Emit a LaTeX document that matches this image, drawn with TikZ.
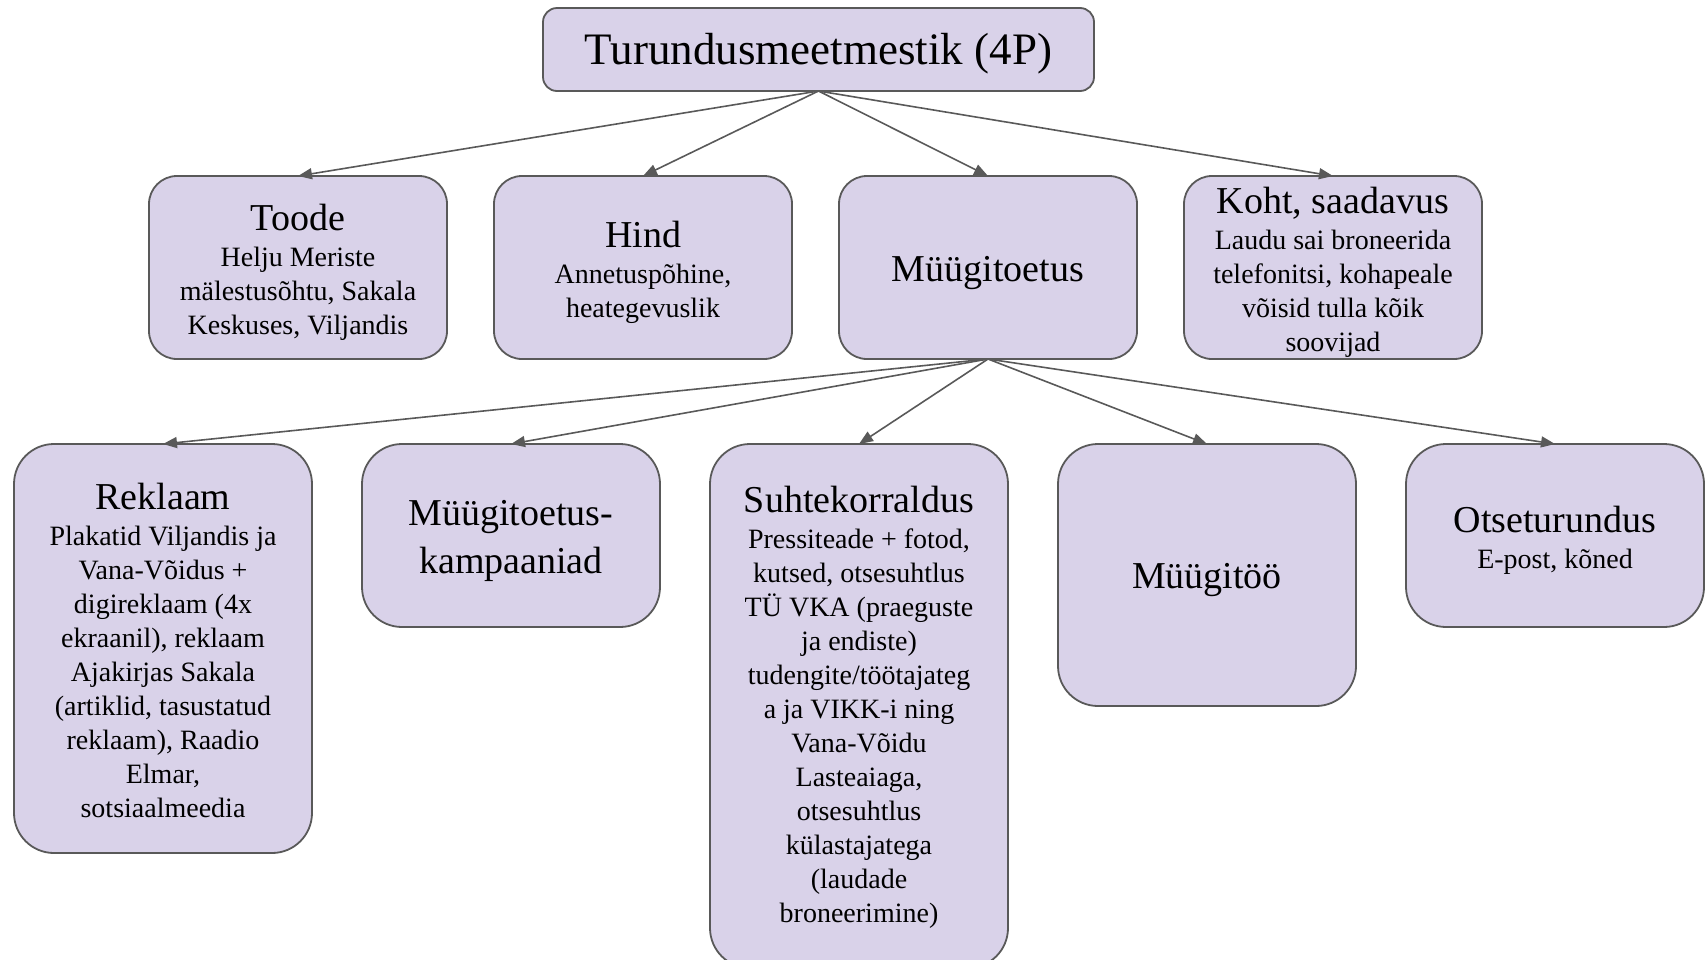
\documentclass[tikz,border=0pt]{standalone}
\usepackage{fontspec}
\setmainfont{Liberation Serif}
\usetikzlibrary{arrows.meta,positioning}

\definecolor{boxfill}{HTML}{D9D2E9}
\definecolor{boxline}{HTML}{595959}
% box title: font and a strut that pushes the text a bit down
\newcommand{\hd}[2][36pt]{{\fontsize{38}{46}\selectfont\rule{0pt}{#1}#2}}

\begin{document}
\begin{tikzpicture}[x=1pt, y=-1pt, >={Triangle[length=14pt,width=11pt]}, node distance=47pt,
    box/.style={draw=boxline, fill=boxfill, line width=1.8pt, rounded corners=28pt, align=center,
                minimum width=298pt, minimum height=183pt, inner sep=0pt, outer sep=0pt,
                font=\fontsize{28}{34}\selectfont},
    rootbox/.style={box, rounded corners=14pt, minimum width=551pt, minimum height=83pt,
                font=\fontsize{45}{52}\selectfont},
    lowbox/.style={box, rounded corners=40pt, anchor=north}]
    \useasboundingbox (0,0) rectangle (1705,959);

    \node[rootbox]                      (mix)      at (818.5,49.5)        {\rule{0pt}{39.5pt}Turundusmeetmestik (4P)};

    % second row
    \node[box]                          (toode)    at (298,267.5)         {\hd{Toode}\\[2pt] Helju Meriste\\ mälestusõhtu, Sakala\\ Keskuses, Viljandis};
    \node[box]                          (hind)     [right=of toode]       {\hd{Hind}\\[2pt] Annetuspõhine,\\ heategevuslik};
    \node[box]                          (toetus)   [right=of hind]        {\hd{Müügitoetus}};
    \node[box]                          (koht)     [right=of toetus]      {\hd{Koht, saadavus}\\[2pt] Laudu sai broneerida\\ telefonitsi, kohapeale\\ võisid tulla kõik\\ soovijad};

    % third row
    \node[lowbox, minimum height=409pt] (reklaam)  at (163,444)           {\hd[30.5pt]{Reklaam}\\[2pt] Plakatid Viljandis ja\\ Vana-Võidus +\\ digireklaam (4x\\ ekraanil), reklaam\\ Ajakirjas Sakala\\ (artiklid, tasustatud\\ reklaam), Raadio\\ Elmar,\\ sotsiaalmeedia};
    \node[lowbox]                       (kampaania) [right=50pt of reklaam.north east, anchor=north west] {\hd[36.5pt]{Müügitoetus-}\\[12pt] \hd[0pt]{kampaaniad}};
    \node[lowbox, minimum height=524pt] (suhted)   [right=50pt of kampaania.north east, anchor=north west] {\hd[28pt]{Suhtekorraldus}\\[2pt] Pressiteade + fotod,\\ kutsed, otsesuhtlus\\ TÜ VKA (praeguste\\ ja endiste)\\ tudengite/töötajateg\\ a ja VIKK-i ning\\ Vana-Võidu\\ Lasteaiaga,\\ otsesuhtlus\\ külastajatega\\ (laudade\\ broneerimine)};
    \node[lowbox, minimum height=262pt] (myyk)     [right=50pt of suhted.north east, anchor=north west] {\hd{Müügitöö}};
    \node[lowbox]                       (otse)     [right=50pt of myyk.north east, anchor=north west] {\hd{Otseturundus}\\[2pt] E-post, kõned};

    \path[->, color=boxline, line width=1.6pt]
        (mix.south)    edge (toode.north)
                       edge (hind.north)
                       edge (toetus.north)
                       edge (koht.north)
        (toetus.south) edge (reklaam.north)
                       edge (kampaania.north)
                       edge (suhted.north)
                       edge (myyk.north)
                       edge (otse.north);
\end{tikzpicture}
\end{document}
